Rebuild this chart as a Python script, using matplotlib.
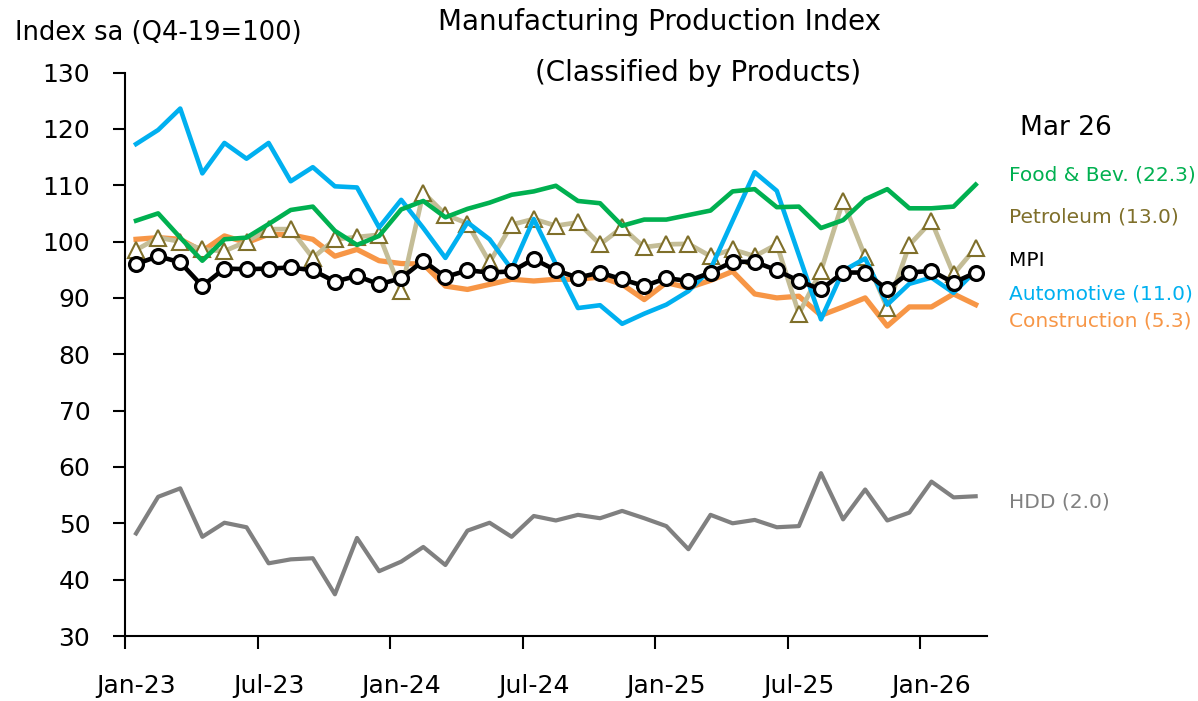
import matplotlib
matplotlib.use("Agg")
import matplotlib.pyplot as plt
import numpy as np

plt.rcParams['font.family'] = ['DejaVu Sans']

months = ["Jan-23", "Feb-23", "Mar-23", "Apr-23", "May-23", "Jun-23", "Jul-23", "Aug-23", "Sep-23", "Oct-23", "Nov-23", "Dec-23",
          "Jan-24", "Feb-24", "Mar-24", "Apr-24", "May-24", "Jun-24", "Jul-24", "Aug-24", "Sep-24", "Oct-24", "Nov-24", "Dec-24",
          "Jan-25", "Feb-25", "Mar-25", "Apr-25", "May-25", "Jun-25", "Jul-25", "Aug-25", "Sep-25", "Oct-25", "Nov-25", "Dec-25",
          "Jan-26", "Feb-26", "Mar-26"]

mpi = [96.0, 97.4, 96.3, 92.1, 95.2, 95.1, 95.2, 95.4, 94.9, 92.9, 93.9, 92.4,
       93.5, 96.6, 93.7, 94.9, 94.5, 94.7, 96.9, 94.9, 93.6, 94.5, 93.3, 92.1,
       93.5, 93.0, 94.5, 96.4, 96.4, 94.9, 93.0, 91.5, 94.5, 94.5, 91.5, 94.5,
       94.8, 92.7, 94.5]

food = [103.7, 105.0, 100.7, 96.6, 100.4, 100.7, 103.1, 105.6, 106.2, 101.9, 99.4, 101.0,
        105.7, 107.2, 104.3, 105.8, 106.9, 108.3, 108.9, 109.9, 107.2, 106.8, 102.8, 103.9,
        103.9, 104.7, 105.5, 108.9, 109.3, 106.1, 106.2, 102.4, 103.8, 107.5, 109.3, 105.9,
        105.9, 106.2, 110.1]

petroleum = [98.5, 100.7, 100.0, 98.6, 98.3, 100.0, 102.2, 102.2, 97.1, 100.4, 100.8, 101.2,
             91.2, 108.7, 104.8, 103.2, 96.3, 103.0, 104.0, 102.8, 103.4, 99.5, 102.5, 99.0,
             99.5, 99.6, 97.4, 98.6, 97.4, 99.5, 87.2, 94.8, 107.2, 97.3, 88.2, 99.4,
             103.6, 94.2, 98.9]

automotive = [117.3, 119.8, 123.6, 112.1, 117.5, 114.7, 117.5, 110.7, 113.2, 109.8, 109.6, 102.5,
              107.4, 102.4, 97.1, 103.4, 100.4, 95.1, 104.0, 96.0, 88.2, 88.7, 85.4, 87.2,
              88.8, 91.2, 95.1, 103.7, 112.3, 109.0, 97.6, 86.2, 94.8, 97.0, 88.8, 92.5,
              93.6, 90.9, 94.8]

construction = [100.4, 100.7, 100.4, 98.3, 101.0, 99.8, 101.3, 101.2, 100.4, 97.4, 98.6, 96.6,
                96.1, 96.0, 92.1, 91.5, 92.4, 93.3, 93.0, 93.3, 93.3, 93.7, 92.4, 89.7,
                92.7, 91.8, 93.1, 94.7, 90.7, 90.0, 90.3, 86.9, 88.4, 90.0, 85.0, 88.4,
                88.4, 90.7, 88.8]

hdd = [48.2, 54.7, 56.2, 47.6, 50.1, 49.3, 42.9, 43.6, 43.8, 37.4, 47.4, 41.5,
       43.2, 45.8, 42.6, 48.7, 50.1, 47.6, 51.3, 50.5, 51.5, 50.9, 52.2, 50.9,
       49.5, 45.4, 51.5, 50.0, 50.6, 49.3, 49.5, 58.9, 50.7, 56.0, 50.5, 51.9,
       57.4, 54.6, 54.8]

labels = ["Food & Bev. (22.3)", "Petroleum (13.0)", "MPI", "Automotive (11.0)", "Construction (5.3)", "HDD (2.0)"]
y_ticks = [30, 40, 50, 60, 70, 80, 90, 100, 110, 120, 130]

C_FOOD = "#00B050"
C_PET_LINE = "#C4BD97"
C_PET_MARK = "#7F6F2A"
C_AUTO = "#00B0F0"
C_CONS = "#F79646"
C_HDD = "#808080"

fig = plt.figure(figsize=(11.98, 7.01), dpi=100)
ax = fig.add_axes([125/1198, 1-636/701, (986.7-125)/1198, (636-72.5)/701])

x = np.arange(len(months))
ax.plot(x, hdd, color=C_HDD, lw=3.0, zorder=2)
ax.plot(x, construction, color=C_CONS, lw=3.8, zorder=3)
ax.plot(x, petroleum, color=C_PET_LINE, lw=3.4, marker="^", ms=11,
        markerfacecolor="white", markeredgecolor=C_PET_MARK, markeredgewidth=1.5, zorder=4)
ax.plot(x, automotive, color=C_AUTO, lw=3.3, zorder=5)
ax.plot(x, food, color=C_FOOD, lw=3.3, zorder=6)
ax.plot(x, mpi, color="black", lw=3.3, marker="o", ms=10,
        markerfacecolor="white", markeredgecolor="black", markeredgewidth=2.3, zorder=7)

ax.set_ylim(30, 130)
ax.set_xlim(-0.5, len(months) - 0.5)
ax.set_yticks(y_ticks)
ax.tick_params(axis="y", direction="out", length=9, width=1.5, labelsize=18, pad=16)

ax.set_xticks(np.arange(-0.5, len(months) - 1, 6))
ax.set_xticklabels([])
ax.set_xticks(np.arange(0, len(months), 6), minor=True)
ax.set_xticklabels([months[i] for i in range(0, len(months), 6)], minor=True)
ax.tick_params(axis="x", which="major", direction="out", length=9, width=1.5)
ax.tick_params(axis="x", which="minor", length=0, labelsize=18, pad=27)

for s in ["top", "right"]:
    ax.spines[s].set_visible(False)
for s in ["left", "bottom"]:
    ax.spines[s].set_linewidth(1.5)

fig.text(659/1198, 1-22/701, "Manufacturing Production Index", ha="center", va="center", fontsize=20)
fig.text(698/1198, 1-73/701, "(Classified by Products)", ha="center", va="center", fontsize=20)
fig.text(15/1198, 1-33/701, "Index sa (Q4-19=100)", ha="left", va="center", fontsize=18.5)

fig.text(1020/1198, 1-128/701, "Mar 26", ha="left", va="center", fontsize=19)
label_y = [175, 217, 260, 294, 321, 502]
label_c = [C_FOOD, C_PET_MARK, "black", C_AUTO, C_CONS, C_HDD]
for lab, yy, cc in zip(labels, label_y, label_c):
    fig.text(1009/1198, 1-yy/701, lab, ha="left", va="center", fontsize=14.5, color=cc)

fig.savefig("out.png", dpi=100)
